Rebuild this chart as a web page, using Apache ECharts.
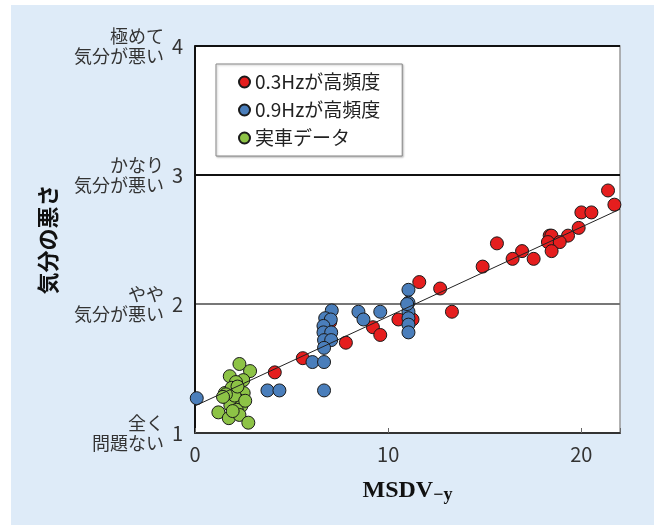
<!DOCTYPE html>
<html><head><meta charset="utf-8">
<script src="https://cdn.jsdelivr.net/npm/echarts@6/dist/echarts.min.js"></script>
<style>
html,body{margin:0;padding:0;background:#fff;}
#bg{position:absolute;left:11px;top:5px;width:643px;height:520px;background:#deebf8;}
#chart{position:absolute;left:0;top:0;width:654px;height:525px;}
</style></head>
<body>
<div id="bg"></div>
<div id="chart"></div>
<script>
// ---- data ----
const seriesNames = ['0.3Hzが高頻度', '0.9Hzが高頻度', '実車データ'];
const red03X = [21.38, 21.71, 20.0, 20.52, 19.86, 19.31, 18.36, 18.45, 18.27, 18.88, 18.46, 15.63, 16.93, 16.44, 17.53, 14.89, 11.61, 12.69, 13.30, 10.53, 11.26, 9.21, 9.59, 7.81, 5.58, 4.13, 7.0];
const red03Y = [2.88, 2.77, 2.71, 2.71, 2.59, 2.53, 2.53, 2.53, 2.48, 2.48, 2.41, 2.47, 2.41, 2.35, 2.35, 2.29, 2.17, 2.12, 1.94, 1.88, 1.88, 1.82, 1.76, 1.70, 1.58, 1.47, 1.86];
const blue09X = [0.09, 3.75, 4.37, 6.68, 6.08, 6.68, 7.08, 6.74, 7.03, 6.65, 6.65, 7.05, 6.68, 7.05, 6.68, 8.46, 8.72, 9.59, 11.05, 11.05, 11.05, 11.05, 11.05, 11.05, 10.98];
const blue09Y = [1.27, 1.33, 1.33, 1.33, 1.55, 1.55, 1.95, 1.89, 1.88, 1.83, 1.78, 1.78, 1.72, 1.72, 1.66, 1.94, 1.88, 1.94, 2.11, 2.01, 1.94, 1.89, 1.84, 1.78, 2.0];
const carX = [2.30, 2.85, 1.80, 2.50, 2.12, 1.55, 1.98, 2.52, 1.70, 2.24, 1.83, 2.40, 2.16, 1.21, 1.75, 2.30, 2.76, 1.90, 2.05, 1.60, 2.60, 1.95, 2.20, 1.45];
const carY = [1.535, 1.48, 1.44, 1.41, 1.395, 1.31, 1.32, 1.31, 1.27, 1.255, 1.215, 1.21, 1.18, 1.16, 1.115, 1.14, 1.08, 1.35, 1.29, 1.30, 1.25, 1.17, 1.36, 1.28];
const fitX = [0, 22];
const fitY = [1.21, 2.735];
const yTickLabels = {1: '全く\n問題ない', 2: 'やや\n気分が悪い', 3: 'かなり\n気分が悪い', 4: '極めて\n気分が悪い'};
const xName = 'MSDV';
const xNameSub = '−y';
const yName = '気分の悪さ';

const zip = (xs, ys) => xs.map((x, i) => [x, ys[i]]);
const FONT = '"Noto Sans CJK JP", "Noto Sans", sans-serif';

const chart = echarts.init(document.getElementById('chart'));
const ptStyle = (c) => ({color: c, borderColor: '#1a1a1a', borderWidth: 1, opacity: 1});

chart.setOption({
  backgroundColor: 'transparent',
  textStyle: {fontFamily: FONT},
  animation: false,
  grid: {left: 195, right: 34, top: 46, bottom: 92, show: true, backgroundColor: '#fff', borderColor: '#999', borderWidth: 1.5},
  legend: {
    orient: 'vertical', left: 216, top: 64,
    data: seriesNames,
    backgroundColor: '#fff', borderColor: '#888', borderWidth: 1,
    shadowColor: 'rgba(0,0,0,0.25)', shadowBlur: 2, shadowOffsetX: 1, shadowOffsetY: 1,
    padding: [8, 22, 8, 22], itemGap: 8, itemWidth: 11, itemHeight: 11,
    textStyle: {fontSize: 19, color: '#222', fontFamily: FONT, lineHeight: 20, padding: [0, 0, 0, 0]}
  },
  xAxis: {
    type: 'value', min: 0, max: 22, interval: 10,
    axisLine: {show: true, lineStyle: {color: '#333', width: 2}},
    axisTick: {show: true, inside: true, length: 5, lineStyle: {color: '#666', width: 1}},
    axisLabel: {fontSize: 20, color: '#333', margin: 11, formatter: v => (v % 10 === 0 ? String(v) : '')},
    splitLine: {show: false},
    name: '{a|' + xName + '}{b|' + xNameSub + '}', nameLocation: 'middle', nameGap: 45,
    nameTextStyle: {rich: {
      a: {fontFamily: '"Liberation Serif", "Times New Roman", serif', fontWeight: 'bold', fontSize: 24, color: '#111', lineHeight: 26},
      b: {fontFamily: '"Liberation Serif", "Times New Roman", serif', fontWeight: 'bold', fontSize: 18, color: '#111', lineHeight: 26, padding: [8, 0, 0, 0]}
    }}
  },
  yAxis: [{
    type: 'value', min: 1, max: 4, interval: 1, position: 'left',
    axisLine: {show: true, lineStyle: {color: '#111', width: 2}},
    axisTick: {show: false},
    axisLabel: {fontSize: 20, color: '#333', margin: 12},
    splitLine: {show: true, lineStyle: {color: ['#333', '#777', '#111', '#111'], width: 2}},
    name: yName, nameLocation: 'middle', nameRotate: 90, nameGap: 136,
    nameTextStyle: {fontSize: 22, fontWeight: 'bold', color: '#111', fontFamily: FONT}
  }, {
    type: 'value', min: 1, max: 4, interval: 1, position: 'left',
    axisLine: {show: false}, axisTick: {show: false}, splitLine: {show: false},
    axisLabel: {fontSize: 18, color: '#333', margin: 31, lineHeight: 20, align: 'right',
      formatter: v => yTickLabels[v] || ''}
  }],
  series: [
    {name: seriesNames[0], type: 'scatter', symbolSize: 13, data: zip(red03X, red03Y), itemStyle: ptStyle('#e51e1e'), z: 3},
    {name: seriesNames[1], type: 'scatter', symbolSize: 13, data: zip(blue09X, blue09Y), itemStyle: ptStyle('#4a7ebb'), z: 4},
    {name: seriesNames[2], type: 'scatter', symbolSize: 13, data: zip(carX, carY), itemStyle: ptStyle('#8dc346'), z: 5},
    {name: 'fit', type: 'line', data: zip(fitX, fitY), showSymbol: false, symbol: 'none',
      lineStyle: {color: '#222', width: 1}, z: 6, silent: true}
  ]
});
</script>
</body></html>
